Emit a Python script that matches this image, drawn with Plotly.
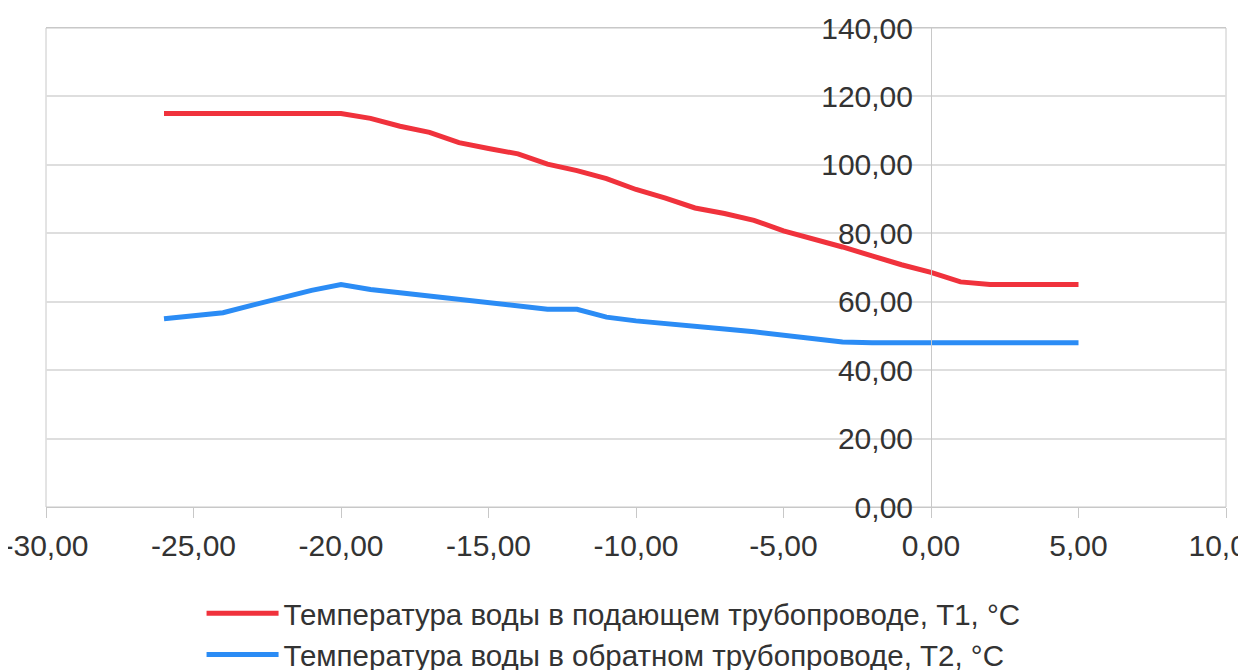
import plotly.graph_objects as go

outdoor_temp = [-26, -25, -24, -23, -22, -21, -20, -19, -18, -17, -16, -15, -14, -13, -12,
                -11, -10, -9, -8, -7, -6, -5, -4, -3, -2, -1, 0, 1, 2, 3, 4, 5]
t1_supply = [115, 115, 115, 115, 115, 115, 115, 113.6, 111.3, 109.5, 106.5, 104.8, 103.2, 100.2, 98.3,
             96.0, 92.8, 90.3, 87.4, 85.8, 83.8, 80.7, 78.5, 76.0, 73.4, 70.8, 68.6, 65.8, 65, 65, 65, 65]
t2_return = [55.0, 55.8, 56.8, 59.0, 61.3, 63.3, 65.0, 63.6, 62.6, 61.6, 60.6, 59.6, 58.6, 57.8, 57.8,
             55.5, 54.4, 53.5, 52.8, 52.0, 51.2, 50.3, 49.2, 48.2, 48, 48, 48, 48, 48, 48, 48, 48]
series_names = ["Температура воды в подающем трубопроводе, Т1, °C",
                "Температура воды в обратном трубопроводе, Т2, °C"]

x_ticks = [-30, -25, -20, -15, -10, -5, 0, 5, 10]
x_tick_labels = ["-30,00", "-25,00", "-20,00", "-15,00", "-10,00", "-5,00", "0,00", "5,00", "10,00"]
y_ticks = [0, 20, 40, 60, 80, 100, 120, 140]
y_tick_labels = ["0,00", "20,00", "40,00", "60,00", "80,00", "100,00", "120,00", "140,00"]

fig = go.Figure()
fig.add_trace(go.Scatter(x=outdoor_temp, y=t1_supply, mode="lines", name=series_names[0],
                         line=dict(color="#f0323c", width=5)))
fig.add_trace(go.Scatter(x=outdoor_temp, y=t2_return, mode="lines", name=series_names[1],
                         line=dict(color="#2b8cf5", width=5)))

font_family = "Liberation Sans, Arial, sans-serif"
fs = 30
fig.update_layout(
    width=1246, height=670,
    margin=dict(l=38, r=28, t=20, b=171, autoexpand=False),
    paper_bgcolor="white", plot_bgcolor="white",
    font=dict(family=font_family, size=fs, color="#333333"),
    showlegend=True,
    legend=dict(orientation="v", x=0.486, xanchor="center", xref="container",
                y=-0.168, yanchor="top", font=dict(size=29.5, color="#333333"),
                itemwidth=72, traceorder="normal"),
    xaxis=dict(range=[-30, 10], tickvals=x_ticks, ticktext=x_tick_labels,
               showgrid=False, zeroline=False, automargin=False,
               showline=True, linecolor="#c8c8c8", linewidth=1, mirror=True,
               ticks="outside", ticklen=10, tickcolor="#c8c8c8",
               ticklabelstandoff=2, ticklabeloverflow="allow",
               tickfont=dict(size=fs, color="#333333")),
    yaxis=dict(range=[0, 140], tickvals=y_ticks, ticktext=y_tick_labels,
               showgrid=True, gridcolor="#dedede", gridwidth=1.5, zeroline=False,
               anchor="free", position=0.75, side="left", automargin=False,
               showline=True, linecolor="#c8c8c8", linewidth=1,
               ticks="", ticklabelstandoff=12, ticklabeloverflow="allow",
               tickfont=dict(size=fs, color="#333333")),
    shapes=[dict(type="rect", xref="paper", yref="paper", x0=0, x1=1, y0=0, y1=1,
                 line=dict(color="#c8c8c8", width=1), layer="below")],
)

fig.write_html("out.html")
